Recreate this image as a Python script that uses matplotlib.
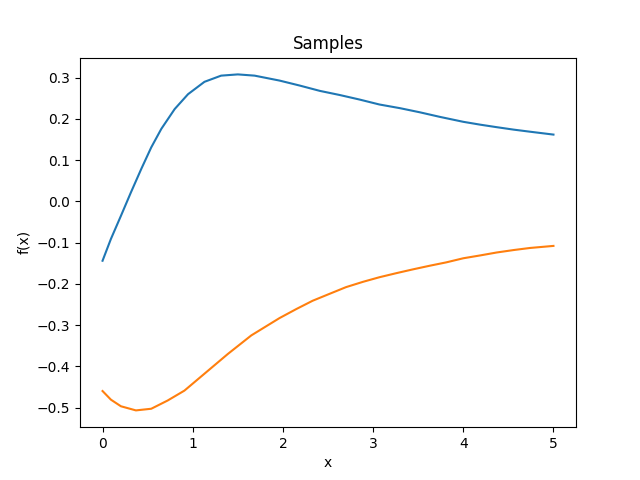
import matplotlib
matplotlib.use("Agg")
import matplotlib.pyplot as plt

x_blue = [0.0, 0.093, 0.204, 0.315, 0.43, 0.54, 0.652, 0.80, 0.948, 1.13, 1.315, 1.50,
          1.686, 1.963, 2.185, 2.41, 2.63, 2.85, 3.07, 3.30, 3.52, 3.74, 4.0, 4.19,
          4.37, 4.56, 4.74, 5.0]
y_blue = [-0.144, -0.091, -0.035, 0.022, 0.079, 0.131, 0.176, 0.224, 0.260, 0.290, 0.305,
          0.308, 0.305, 0.293, 0.281, 0.268, 0.258, 0.247, 0.235, 0.226, 0.216, 0.205,
          0.193, 0.186, 0.180, 0.174, 0.169, 0.162]

x_orange = [0.0, 0.093, 0.204, 0.37, 0.54, 0.722, 0.908, 1.13, 1.39, 1.65, 1.963, 2.15,
            2.33, 2.52, 2.70, 2.89, 3.07, 3.26, 3.44, 3.63, 3.81, 4.0, 4.19, 4.37,
            4.56, 4.74, 5.0]
y_orange = [-0.460, -0.481, -0.497, -0.507, -0.503, -0.483, -0.459, -0.418, -0.370,
            -0.325, -0.283, -0.261, -0.241, -0.224, -0.208, -0.195, -0.184, -0.174,
            -0.165, -0.156, -0.148, -0.138, -0.131, -0.124, -0.118, -0.113, -0.108]

fig, ax = plt.subplots(figsize=(6.4, 4.8), dpi=100)
ax.plot(x_blue, y_blue)
ax.plot(x_orange, y_orange)
ax.set_title("Samples")
ax.set_xlabel("x")
ax.set_ylabel("f(x)")
fig.savefig("out.png")
